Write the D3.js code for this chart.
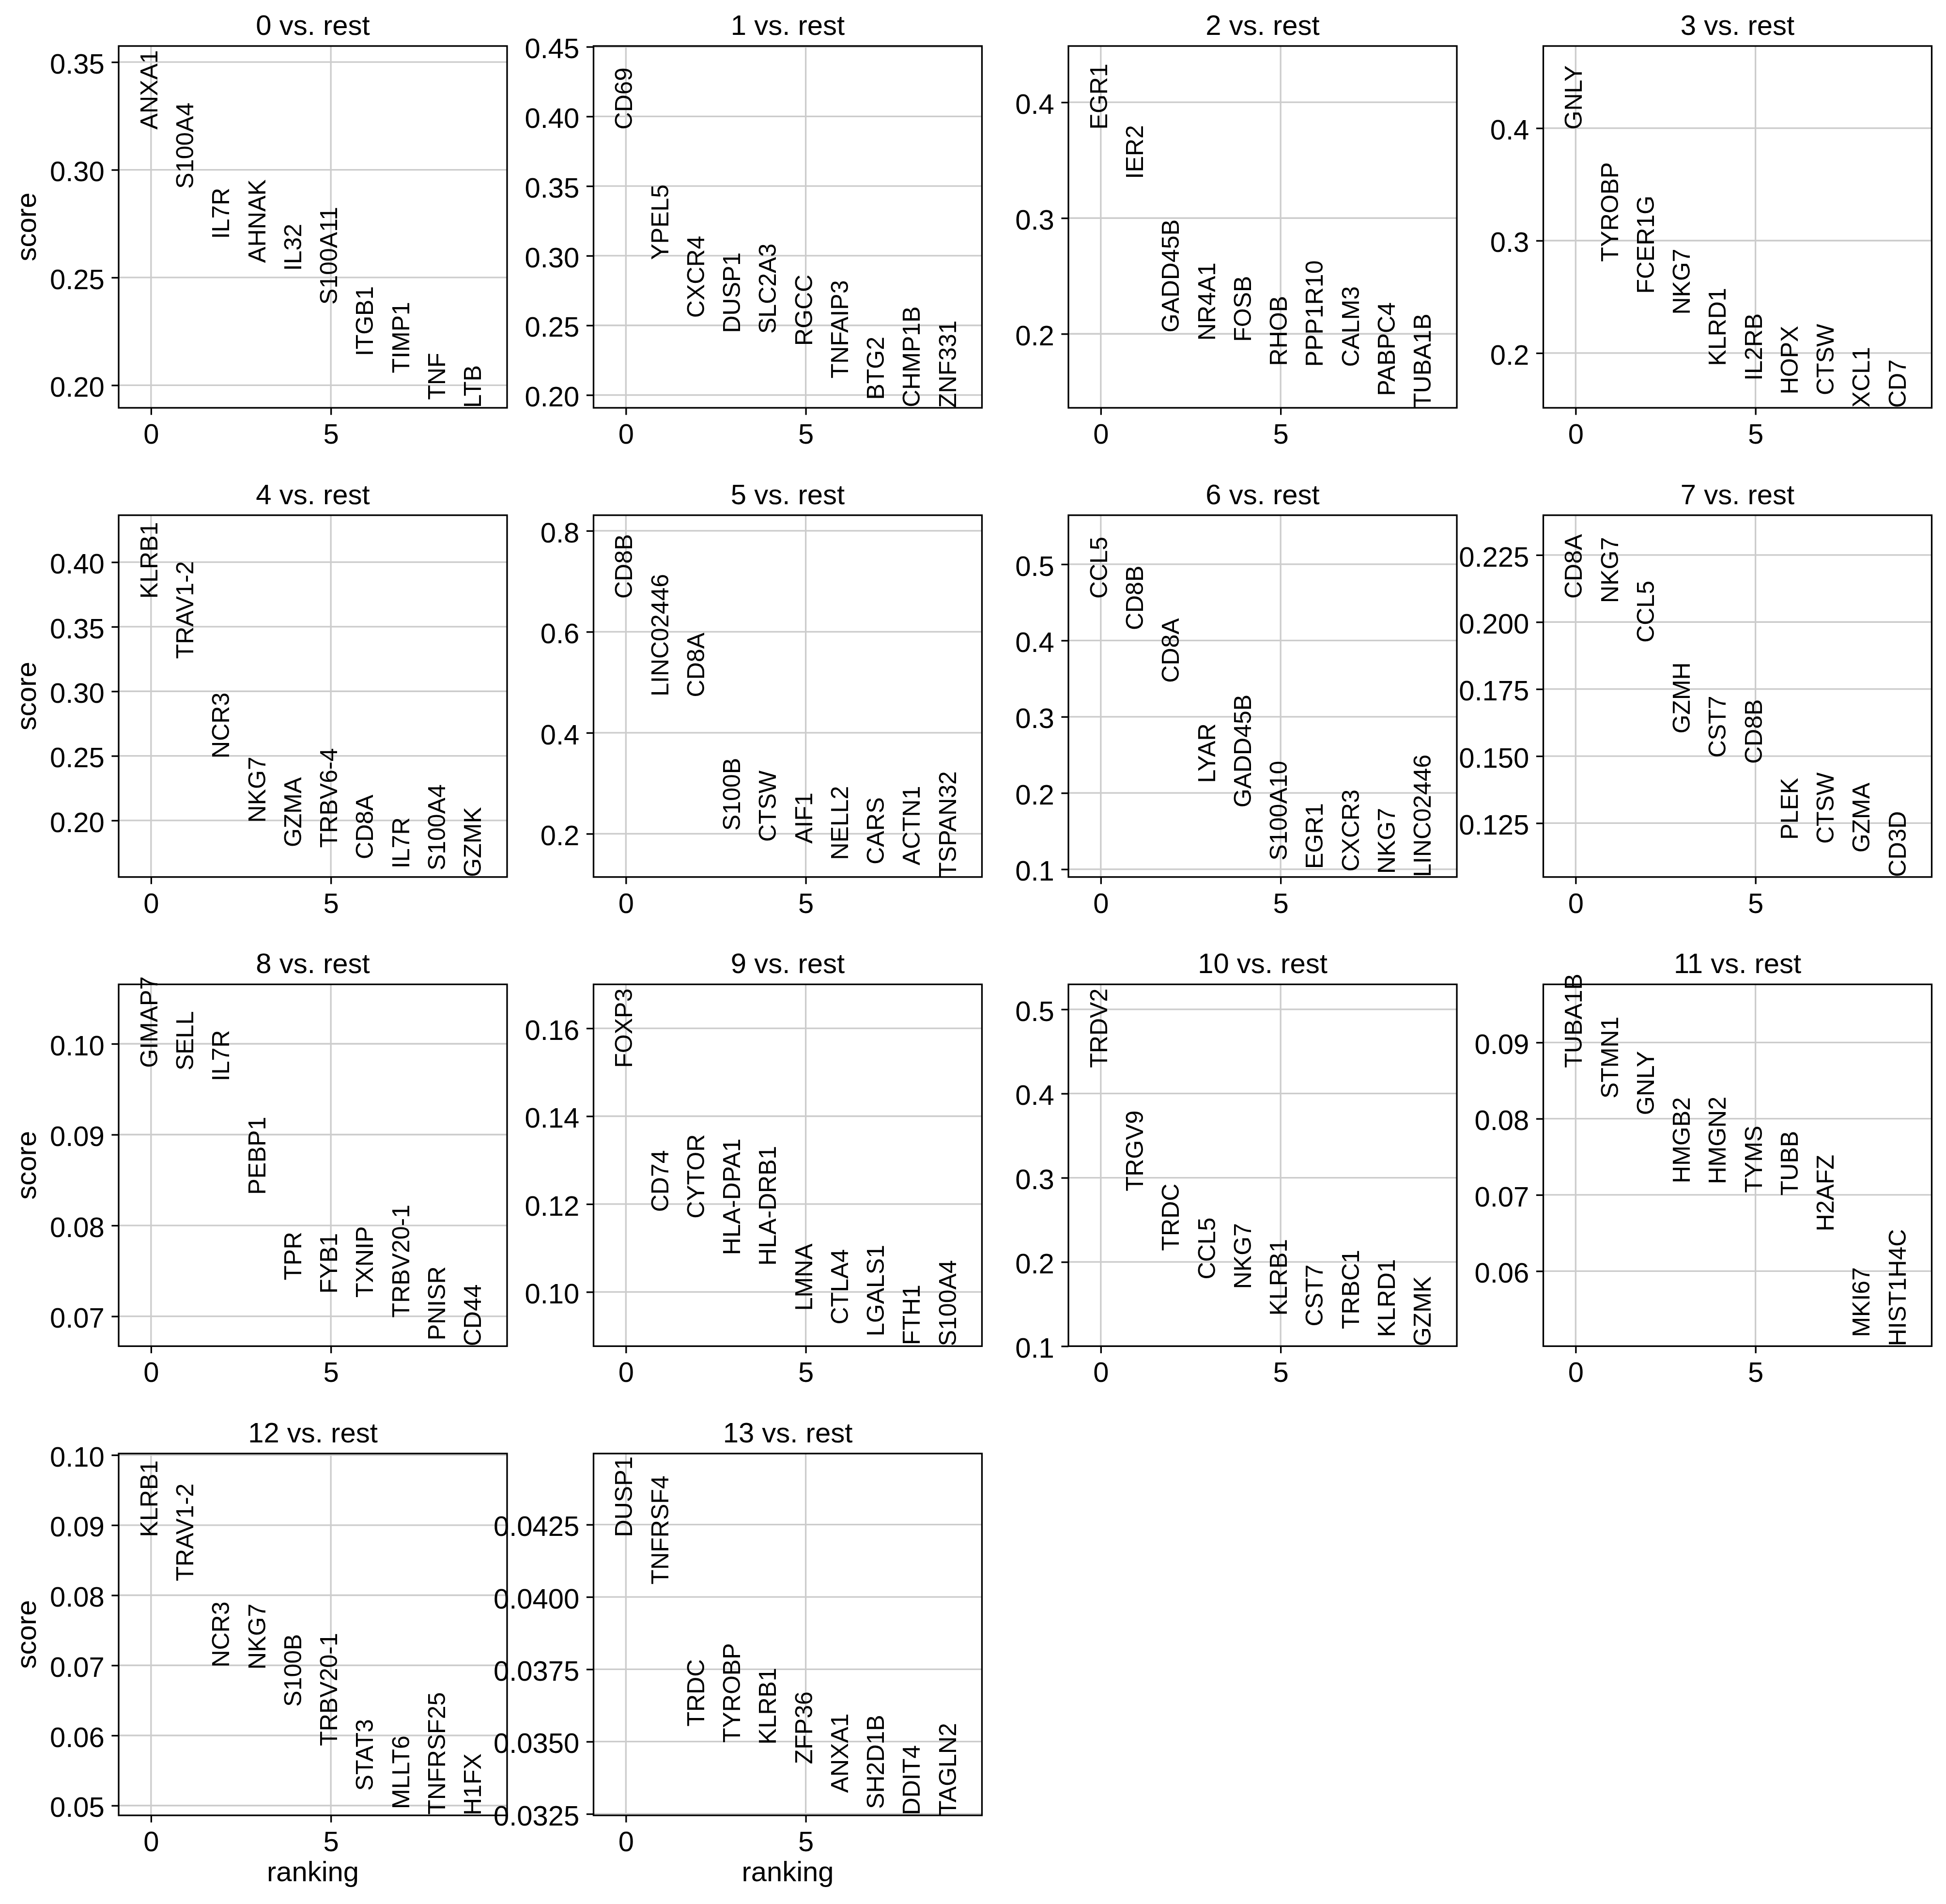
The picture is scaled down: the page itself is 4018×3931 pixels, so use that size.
<!DOCTYPE html>
<html><head><meta charset="utf-8">
<script src="https://cdn.jsdelivr.net/npm/d3@7"></script>
<style>body{margin:0;background:#fff}</style>
</head><body><div id="chart"></div>
<script>
const groups = ["0","1","2","3","4","5","6","7","8","9","10","11","12","13"];

const geneNames = [
  ["ANXA1","S100A4","IL7R","AHNAK","IL32","S100A11","ITGB1","TIMP1","TNF","LTB"],
  ["CD69","YPEL5","CXCR4","DUSP1","SLC2A3","RGCC","TNFAIP3","BTG2","CHMP1B","ZNF331"],
  ["EGR1","IER2","GADD45B","NR4A1","FOSB","RHOB","PPP1R10","CALM3","PABPC4","TUBA1B"],
  ["GNLY","TYROBP","FCER1G","NKG7","KLRD1","IL2RB","HOPX","CTSW","XCL1","CD7"],
  ["KLRB1","TRAV1-2","NCR3","NKG7","GZMA","TRBV6-4","CD8A","IL7R","S100A4","GZMK"],
  ["CD8B","LINC02446","CD8A","S100B","CTSW","AIF1","NELL2","CARS","ACTN1","TSPAN32"],
  ["CCL5","CD8B","CD8A","LYAR","GADD45B","S100A10","EGR1","CXCR3","NKG7","LINC02446"],
  ["CD8A","NKG7","CCL5","GZMH","CST7","CD8B","PLEK","CTSW","GZMA","CD3D"],
  ["GIMAP7","SELL","IL7R","PEBP1","TPR","FYB1","TXNIP","TRBV20-1","PNISR","CD44"],
  ["FOXP3","CD74","CYTOR","HLA-DPA1","HLA-DRB1","LMNA","CTLA4","LGALS1","FTH1","S100A4"],
  ["TRDV2","TRGV9","TRDC","CCL5","NKG7","KLRB1","CST7","TRBC1","KLRD1","GZMK"],
  ["TUBA1B","STMN1","GNLY","HMGB2","HMGN2","TYMS","TUBB","H2AFZ","MKI67","HIST1H4C"],
  ["KLRB1","TRAV1-2","NCR3","NKG7","S100B","TRBV20-1","STAT3","MLLT6","TNFRSF25","H1FX"],
  ["DUSP1","TNFRSF4","TRDC","TYROBP","KLRB1","ZFP36","ANXA1","SH2D1B","DDIT4","TAGLN2"]
];

const geneScores = [
  [0.3187,0.2912,0.2679,0.2568,0.2531,0.2374,0.2135,0.2056,0.1932,0.1895],
  [0.3906,0.2970,0.2554,0.2445,0.2440,0.2353,0.2119,0.1965,0.1912,0.1908],
  [0.3765,0.3338,0.2012,0.1942,0.1931,0.1723,0.1716,0.1714,0.1463,0.1361],
  [0.3988,0.2812,0.2527,0.2342,0.1886,0.1755,0.1632,0.1625,0.1516,0.1513],
  [0.3717,0.3251,0.2480,0.1983,0.1793,0.1789,0.1700,0.1628,0.1613,0.1562],
  [0.6655,0.4720,0.4704,0.2062,0.1841,0.1804,0.1481,0.1392,0.1376,0.1143],
  [0.4548,0.4135,0.3445,0.2131,0.1809,0.1116,0.1004,0.0969,0.0940,0.0898],
  [0.2087,0.2071,0.1923,0.1584,0.1494,0.1471,0.1188,0.1173,0.1140,0.1049],
  [0.09735,0.09706,0.09588,0.08338,0.07397,0.07250,0.07206,0.06985,0.06735,0.06671],
  [0.1510,0.1182,0.1167,0.1084,0.1060,0.0957,0.0926,0.0899,0.0879,0.08766],
  [0.4305,0.2840,0.2132,0.1793,0.1679,0.1362,0.1235,0.1203,0.1108,0.1000],
  [0.08667,0.08264,0.08047,0.07153,0.07142,0.07027,0.06992,0.06522,0.05134,0.05015],
  [0.0883,0.0820,0.0697,0.0694,0.0641,0.0585,0.0521,0.0495,0.0487,0.0486],
  [0.04207,0.04043,0.03552,0.03496,0.03490,0.03422,0.03323,0.03267,0.03246,0.03245]
];

const yTickLabels = [
  ["0.20","0.25","0.30","0.35"],
  ["0.20","0.25","0.30","0.35","0.40","0.45"],
  ["0.2","0.3","0.4"],
  ["0.2","0.3","0.4"],
  ["0.20","0.25","0.30","0.35","0.40"],
  ["0.2","0.4","0.6","0.8"],
  ["0.1","0.2","0.3","0.4","0.5"],
  ["0.125","0.150","0.175","0.200","0.225"],
  ["0.07","0.08","0.09","0.10"],
  ["0.10","0.12","0.14","0.16"],
  ["0.1","0.2","0.3","0.4","0.5"],
  ["0.06","0.07","0.08","0.09"],
  ["0.05","0.06","0.07","0.08","0.09","0.10"],
  ["0.0325","0.0350","0.0375","0.0400","0.0425"]
];

const xTickValues = [0, 5];
const yLabel = "score";
const xLabel = "ranking";

const W = 4018, H = 3931;
const FONT = "'Liberation Sans', Arial, Helvetica, sans-serif";
const svg = d3.select("#chart").append("svg")
  .attr("width", W).attr("height", H)
  .style("font-family", FONT);
svg.append("rect").attr("width", W).attr("height", H).attr("fill", "#fff");

const axW = 802, axH = 747;
const colX = [245, 1225.5, 2206, 3186.5];
const rowY = [95, 1063.7, 2032.3, 3001];
const tickLen = 14.6, tickPad = 14.6, lw = 3.3;
const tickFont = 58, geneFont = 50;
const nRows = Math.ceil(groups.length / 4);

groups.forEach((g, i) => {
  const r = Math.floor(i / 4), c = i % 4;
  const scores = geneScores[i], names = geneNames[i];
  const smin = d3.min(scores), smax = d3.max(scores);
  const ymax = smax + 0.3 * (smax - smin);
  const x = d3.scaleLinear().domain([-0.9, names.length - 0.1]).range([0, axW]);
  const y = d3.scaleLinear().domain([smin, ymax]).range([axH, 0]);
  const tol = (ymax - smin) * 2e-3;
  const yt = yTickLabels[i].filter(t => +t >= smin - tol && +t <= ymax + tol);
  const labelOf = {}; yTickLabels[i].forEach(t => labelOf[+t] = t);

  const gp = svg.append("g").attr("transform", `translate(${colX[c]},${rowY[r]})`);

  // grid
  gp.append("g").selectAll("line.h").data(yt).join("line")
    .attr("x1", 0).attr("x2", axW)
    .attr("y1", d => y(+d)).attr("y2", d => y(+d))
    .attr("stroke", "#cccccc").attr("stroke-width", lw);
  gp.append("g").selectAll("line.v").data(xTickValues).join("line")
    .attr("x1", d => x(d)).attr("x2", d => x(d))
    .attr("y1", 0).attr("y2", axH)
    .attr("stroke", "#cccccc").attr("stroke-width", lw);

  // axes
  const ya = gp.append("g").call(
    d3.axisLeft(y).tickValues(yt.map(Number)).tickSize(tickLen).tickPadding(tickPad)
      .tickFormat(d => labelOf[d]));
  const xa = gp.append("g").attr("transform", `translate(0,${axH})`).call(
    d3.axisBottom(x).tickValues(xTickValues).tickSize(tickLen).tickPadding(tickPad)
      .tickFormat(d3.format("d")));
  [ya, xa].forEach(a => {
    a.select(".domain").remove();
    a.selectAll(".tick line").attr("stroke", "#000").attr("stroke-width", lw);
    a.selectAll(".tick text").attr("fill", "#000")
      .style("font-family", FONT).style("font-size", tickFont + "px");
  });
  ya.selectAll(".tick text").attr("dy", "0.4em");
  xa.selectAll(".tick text").attr("dy", "0.77em");

  // frame
  gp.append("rect").attr("x", 0).attr("y", 0).attr("width", axW).attr("height", axH)
    .attr("fill", "none").attr("stroke", "#000").attr("stroke-width", lw);

  // gene labels
  gp.append("g").selectAll("text").data(names).join("text")
    .attr("transform", (d, j) => `translate(${x(j)},${y(scores[j])}) rotate(-90)`)
    .attr("dy", "0.26em")
    .attr("text-anchor", "start")
    .style("font-size", geneFont + "px")
    .attr("fill", "#000")
    .text(d => d);

  // title
  gp.append("text").attr("x", axW / 2).attr("y", -23)
    .attr("text-anchor", "middle").style("font-size", tickFont + "px")
    .text(`${g} vs. rest`);

  if (c === 0) {
    gp.append("text")
      .attr("transform", `translate(${74 - colX[0]},${axH / 2}) rotate(-90)`)
      .attr("text-anchor", "middle").style("font-size", tickFont + "px")
      .text(yLabel);
  }
  if (r === nRows - 1) {
    gp.append("text").attr("x", axW / 2).attr("y", axH + 136)
      .attr("text-anchor", "middle").style("font-size", tickFont + "px")
      .text(xLabel);
  }
});
</script>
</body></html>
